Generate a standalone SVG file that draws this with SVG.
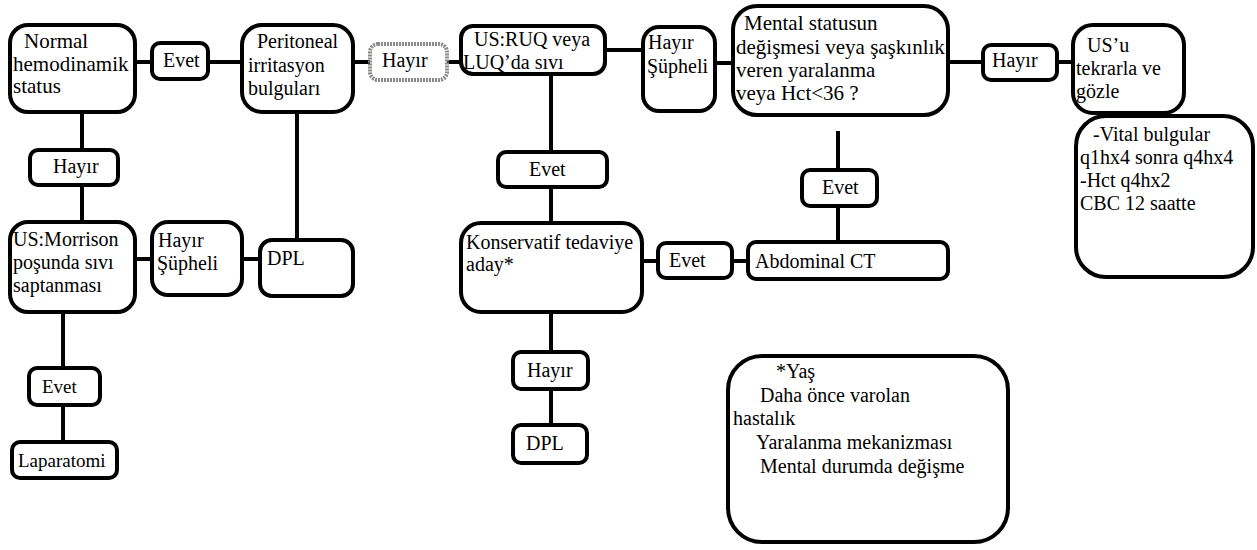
<svg xmlns="http://www.w3.org/2000/svg" width="1257" height="550" viewBox="0 0 1257 550">
<style>
.b{fill:#fff;stroke:#000;stroke-width:4}
.g{fill:#fff;stroke:#8a8a8a;stroke-width:4;stroke-dasharray:2 1}
.t{font-family:"Liberation Serif","Times New Roman",serif;font-size:20px;fill:#000}
.l{font-size:21px}
.s{font-size:19px}
.c line{stroke:#000;stroke-width:4}
</style>
<rect width="1257" height="550" fill="#fff"/>
<g class="c" id="connectors">
<line x1="135" y1="62" x2="152" y2="62"/>
<line x1="208" y1="62" x2="242" y2="62"/>
<line x1="353" y1="62" x2="370" y2="62"/>
<line x1="447" y1="62" x2="461" y2="62"/>
<line x1="605" y1="50" x2="643" y2="50"/>
<line x1="715" y1="63" x2="733" y2="63"/>
<line x1="948" y1="62" x2="983" y2="62"/>
<line x1="1057" y1="62" x2="1073" y2="62"/>
<line x1="82" y1="112" x2="82" y2="150"/>
<line x1="82" y1="185" x2="82" y2="222"/>
<line x1="297" y1="112" x2="297" y2="240"/>
<line x1="135" y1="259" x2="152" y2="259"/>
<line x1="242" y1="259" x2="260" y2="259"/>
<line x1="63" y1="312" x2="63" y2="368"/>
<line x1="63" y1="405" x2="63" y2="442"/>
<line x1="551" y1="74" x2="551" y2="152"/>
<line x1="551" y1="187" x2="551" y2="223"/>
<line x1="642" y1="261" x2="658" y2="261"/>
<line x1="732" y1="261" x2="748" y2="261"/>
<line x1="838" y1="131" x2="838" y2="170"/>
<line x1="838" y1="206" x2="838" y2="242"/>
<line x1="551" y1="312" x2="551" y2="352"/>
<line x1="551" y1="389" x2="551" y2="425"/>
</g>
<g id="n-normal"><rect class="b" x="10" y="25" width="125" height="87" rx="18"/><text class="t l" x="24" y="48">Normal</text><text class="t l" x="13" y="71">hemodinamik</text><text class="t l" x="13" y="93">status</text></g>
<g id="n-evet1"><rect class="b" x="152" y="43" width="56" height="36" rx="8"/><text class="t" x="163" y="67">Evet</text></g>
<g id="n-peritoneal"><rect class="b" x="242" y="25" width="111" height="87" rx="20"/><text class="t" x="257" y="48">Peritoneal</text><text class="t" x="248" y="72">irritasyon</text><text class="t" x="248" y="95">bulguları</text></g>
<g id="n-hayir1"><rect class="g" x="370" y="44" width="77" height="36" rx="8"/><text class="t" x="382" y="67">Hayır</text></g>
<g id="n-usruq"><rect class="b" x="461" y="26" width="144" height="48" rx="12"/><text class="t" x="474" y="46">US:RUQ veya</text><text class="t" x="463" y="69">LUQ’da sıvı</text></g>
<g id="n-hs1"><rect class="b" x="643" y="27" width="72" height="84" rx="16"/><text class="t" x="648" y="49">Hayır</text><text class="t" x="647" y="73">Şüpheli</text></g>
<g id="n-mental"><rect class="b" x="733" y="6" width="215" height="109" rx="24"/><text class="t l" x="744" y="30">Mental statusun</text><text class="t l" x="736" y="54">değişmesi veya şaşkınlık</text><text class="t l" x="736" y="77">veren yaralanma</text><text class="t l" x="736" y="100">veya Hct&lt;36 ?</text></g>
<g id="n-hayir2"><rect class="b" x="983" y="45" width="74" height="35" rx="8"/><text class="t" x="992" y="67">Hayır</text></g>
<g id="n-usu"><rect class="b" x="1073" y="25" width="111" height="88" rx="20"/><text class="t" x="1087" y="52">US’u</text><text class="t" x="1076" y="75">tekrarla ve</text><text class="t" x="1076" y="98">gözle</text></g>
<g id="n-vital"><rect class="b" x="1076" y="116" width="177" height="161" rx="30"/><text class="t" x="1093" y="141">-Vital bulgular</text><text class="t" x="1080" y="164">q1hx4 sonra q4hx4</text><text class="t" x="1080" y="187">-Hct q4hx2</text><text class="t" x="1080" y="210">CBC 12 saatte</text></g>
<g id="n-hayir3"><rect class="b" x="30" y="150" width="88" height="35" rx="8"/><text class="t" x="53" y="173">Hayır</text></g>
<g id="n-morrison"><rect class="b" x="10" y="222" width="125" height="90" rx="18"/><text class="t" x="13" y="246">US:Morrison</text><text class="t" x="13" y="269">poşunda sıvı</text><text class="t" x="13" y="292">saptanması</text></g>
<g id="n-hs2"><rect class="b" x="152" y="222" width="90" height="73" rx="16"/><text class="t" x="158" y="247">Hayır</text><text class="t" x="157" y="270">Şüpheli</text></g>
<g id="n-dpl1"><rect class="b" x="260" y="240" width="93" height="56" rx="12"/><text class="t" x="267" y="265">DPL</text></g>
<g id="n-evet2"><rect class="b" x="498" y="152" width="109" height="35" rx="8"/><text class="t" x="529" y="176">Evet</text></g>
<g id="n-konservatif"><rect class="b" x="461" y="223" width="181" height="89" rx="20"/><text class="t" x="466" y="249">Konservatif tedaviye</text><text class="t" x="466" y="271">aday*</text></g>
<g id="n-evet3"><rect class="b" x="658" y="243" width="74" height="35" rx="8"/><text class="t" x="669" y="267">Evet</text></g>
<g id="n-abdominal"><rect class="b" x="748" y="242" width="200" height="37" rx="8"/><text class="t" x="755" y="268">Abdominal CT</text></g>
<g id="n-evet4"><rect class="b" x="802" y="170" width="75" height="36" rx="8"/><text class="t" x="822" y="194">Evet</text></g>
<g id="n-evet5"><rect class="b" x="29" y="368" width="71" height="37" rx="8"/><text class="t s" x="42" y="393">Evet</text></g>
<g id="n-laparatomi"><rect class="b" x="12" y="442" width="105" height="36" rx="8"/><text class="t s" x="18" y="467">Laparatomi</text></g>
<g id="n-hayir4"><rect class="b" x="513" y="352" width="75" height="37" rx="8"/><text class="t" x="527" y="377">Hayır</text></g>
<g id="n-dpl2"><rect class="b" x="513" y="425" width="74" height="38" rx="8"/><text class="t" x="526" y="450">DPL</text></g>
<g id="n-note"><rect class="b" x="728" y="356" width="280" height="186" rx="34"/><text class="t" x="776" y="378">*Yaş</text><text class="t" x="760" y="402">Daha önce varolan</text><text class="t" x="733" y="425">hastalık</text><text class="t" x="756" y="449">Yaralanma mekanizması</text><text class="t" x="760" y="473">Mental durumda değişme</text></g>
</svg>
